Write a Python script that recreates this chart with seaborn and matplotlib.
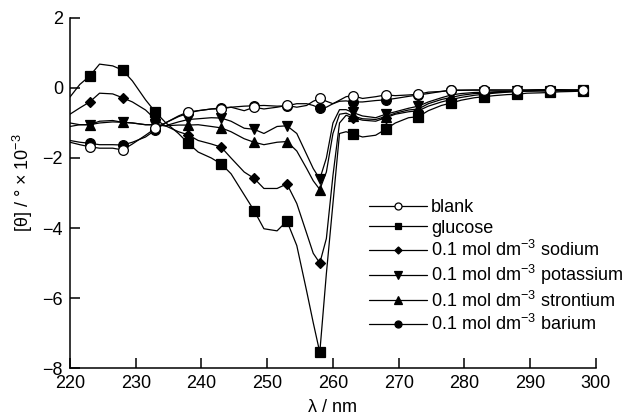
import matplotlib
matplotlib.use("Agg")
import matplotlib.pyplot as plt
from matplotlib.lines import Line2D
import pandas as pd
import seaborn as sns

# wavelength grid (nm) at which the curves were read
wavelength = [220, 221.5, 223, 224.5, 226.5, 228, 229.5, 231.5, 233, 234.5, 236.5,
              238, 239.5, 241.5, 243, 244.5, 246.5, 248, 249.5, 251.5, 253, 254.5,
              256, 257, 258, 259, 260, 261, 262, 263, 264.5, 266.5, 268, 269.5,
              271.5, 273, 274.5, 276.5, 278, 279.5, 281.5, 283, 284.5, 286.5, 288,
              289.5, 291.5, 293, 294.5, 296.5, 298]

# wavelengths that carry a marker
marker_nm = [223, 228, 233, 238, 243, 248, 253, 258, 263, 268, 273, 278, 283, 288, 293, 298]

blank = [-1.55, -1.62, -1.68, -1.72, -1.72, -1.77, -1.60, -1.35, -1.15, -1.00, -0.80,
         -0.68, -0.65, -0.60, -0.60, -0.55, -0.65, -0.55, -0.60, -0.55, -0.50, -0.55,
         -0.50, -0.38, -0.30, -0.38, -0.45, -0.35, -0.25, -0.22, -0.30, -0.25, -0.20,
         -0.22, -0.20, -0.18, -0.12, -0.10, -0.07, -0.07, -0.06, -0.06, -0.06, -0.06,
         -0.06, -0.06, -0.05, -0.05, -0.05, -0.06, -0.06]
glucose = [-0.26, 0.10, 0.34, 0.68, 0.63, 0.51, 0.20, -0.34, -0.69, -0.98, -1.30,
           -1.58, -1.83, -2.00, -2.17, -2.45, -3.05, -3.50, -4.02, -4.08, -3.80, -4.50,
           -5.80, -6.70, -7.55, -5.30, -3.30, -1.30, -1.25, -1.31, -1.40, -1.35, -1.18,
           -1.00, -0.85, -0.82, -0.65, -0.50, -0.43, -0.35, -0.28, -0.25, -0.22, -0.19,
           -0.18, -0.15, -0.14, -0.13, -0.11, -0.10, -0.09]
sodium = [-0.75, -0.57, -0.40, -0.15, -0.17, -0.28, -0.40, -0.63, -0.90, -1.08, -1.25,
          -1.34, -1.50, -1.60, -1.69, -2.00, -2.40, -2.58, -2.87, -2.87, -2.74, -3.30,
          -4.15, -4.72, -5.00, -4.30, -2.50, -1.00, -0.78, -0.85, -0.92, -0.95, -0.85,
          -0.75, -0.68, -0.65, -0.52, -0.40, -0.33, -0.27, -0.21, -0.18, -0.15, -0.12,
          -0.10, -0.09, -0.08, -0.08, -0.08, -0.07, -0.07]
potassium = [-1.00, -1.05, -1.05, -0.95, -0.93, -0.98, -1.00, -1.05, -1.05, -1.08, -0.97,
             -0.90, -0.88, -0.85, -0.86, -0.95, -1.15, -1.18, -1.30, -1.10, -1.08, -1.30,
             -1.90, -2.30, -2.60, -2.00, -1.00, -0.62, -0.62, -0.70, -0.80, -0.85, -0.75,
             -0.68, -0.58, -0.52, -0.40, -0.28, -0.20, -0.16, -0.13, -0.12, -0.11, -0.10,
             -0.09, -0.08, -0.08, -0.08, -0.07, -0.07, -0.07]
strontium = [-1.10, -1.05, -1.05, -1.00, -0.97, -0.98, -1.00, -1.05, -1.05, -1.08, -1.06,
             -1.06, -1.05, -1.10, -1.14, -1.25, -1.45, -1.55, -1.62, -1.55, -1.53, -1.80,
             -2.30, -2.65, -2.90, -2.40, -1.30, -0.75, -0.72, -0.80, -0.88, -0.90, -0.82,
             -0.72, -0.63, -0.60, -0.45, -0.33, -0.27, -0.21, -0.16, -0.15, -0.13, -0.11,
             -0.10, -0.09, -0.08, -0.08, -0.08, -0.07, -0.07]
barium = [-1.50, -1.55, -1.58, -1.62, -1.62, -1.63, -1.55, -1.40, -1.20, -1.00, -0.82,
          -0.72, -0.65, -0.60, -0.57, -0.55, -0.52, -0.51, -0.50, -0.52, -0.51, -0.45,
          -0.45, -0.50, -0.58, -0.55, -0.45, -0.38, -0.37, -0.40, -0.40, -0.36, -0.34,
          -0.30, -0.24, -0.20, -0.16, -0.10, -0.06, -0.06, -0.06, -0.06, -0.06, -0.06,
          -0.06, -0.06, -0.05, -0.05, -0.05, -0.06, -0.06]

labels = ["blank", "glucose", "0.1 mol dm$^{-3}$ sodium", "0.1 mol dm$^{-3}$ potassium",
          "0.1 mol dm$^{-3}$ strontium", "0.1 mol dm$^{-3}$ barium"]
series = [blank, glucose, sodium, potassium, strontium, barium]
x_ticks = [220, 230, 240, 250, 260, 270, 280, 290, 300]
y_ticks = [-8, -6, -4, -2, 0, 2]

sns.set_theme(style="ticks")
plt.rcParams["font.family"] = ["Liberation Sans", "DejaVu Sans"]
plt.rcParams["mathtext.default"] = "regular"
plt.rcParams["text.color"] = "black"
plt.rcParams["axes.labelcolor"] = "black"
plt.rcParams["xtick.color"] = "black"
plt.rcParams["ytick.color"] = "black"
plt.rcParams["xtick.labelcolor"] = "black"
plt.rcParams["ytick.labelcolor"] = "black"

fig = plt.figure(figsize=(6.36, 4.16), dpi=100)
ax = fig.add_axes([0.110, 0.115, 0.827, 0.842])

marker_idx = [wavelength.index(v) for v in marker_nm]
styles = [
    dict(marker="o", markersize=7.0, markerfacecolor="white"),
    dict(marker="s", markersize=6.5, markerfacecolor="black"),
    dict(marker="D", markersize=5.0, markerfacecolor="black"),
    dict(marker="v", markersize=7.5, markerfacecolor="black"),
    dict(marker="^", markersize=7.5, markerfacecolor="black"),
    dict(marker="o", markersize=7.0, markerfacecolor="black"),
]
zorders = [8, 3, 4, 5, 6, 7]

handles = []
for lab, vals, st, z in zip(labels, series, styles, zorders):
    df = pd.DataFrame({"nm": wavelength, "theta": vals})
    sns.lineplot(data=df, x="nm", y="theta", ax=ax, color="black", linewidth=0.9,
                 markeredgecolor="black", markeredgewidth=0.9, markevery=marker_idx,
                 zorder=z, **st)
    hst = dict(st)
    hst["markersize"] = st["markersize"] * 0.72
    handles.append(Line2D([], [], color="black", linewidth=0.9, markeredgecolor="black",
                          markeredgewidth=0.9, label=lab, **hst))

ax.set_xlim(220, 300)
ax.set_ylim(-8, 2)
ax.set_xticks(x_ticks)
ax.set_yticks(y_ticks)
sns.despine(ax=ax)
for sp in ax.spines.values():
    sp.set_linewidth(1.1)
    sp.set_color("black")
ax.tick_params(direction="in", length=7, width=1.1, labelsize=13, pad=5,
               colors="black", labelcolor="black")
ax.set_xlabel("λ / nm", fontsize=13, labelpad=5, color="black")
ax.set_ylabel("[θ] / ° × 10$^{-3}$", fontsize=13, color="black")
ax.yaxis.set_label_coords(-0.066, 0.53)

leg = ax.legend(handles=handles, loc="upper left", bbox_to_anchor=(0.580, 0.521),
                bbox_transform=fig.transFigure, frameon=False, fontsize=13,
                handlelength=3.2, handletextpad=0.25, labelspacing=0.18, borderpad=0,
                borderaxespad=0)
for t in leg.get_texts():
    t.set_color("black")

fig.savefig("out.png", dpi=100)
